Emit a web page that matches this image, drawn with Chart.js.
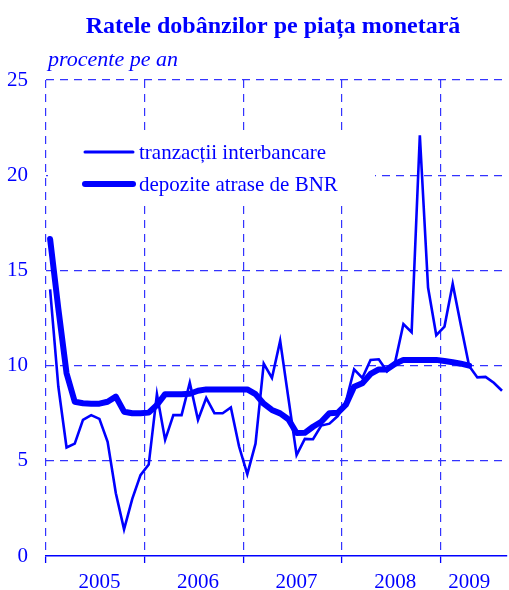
<!DOCTYPE html>
<html>
<head>
<meta charset="utf-8">
<script src="https://cdn.jsdelivr.net/npm/chart.js@4/dist/chart.umd.min.js"></script>
<style>
  html, body { margin: 0; padding: 0; background: #fff; }
  #wrap { width: 509px; height: 590px; position: relative; }
</style>
</head>
<body>
<div id="wrap"><canvas id="myChart"></canvas></div>
<script>
// monthly series, Jan 2005 .. Aug 2009
var years = ["2005", "2006", "2007", "2008", "2009"];
var yearLabelIdx = [6, 18, 30, 42, 51];
var months = [];
years.forEach(function(y){
  for (var m = 1; m <= 12; m++) months.push(y + "-" + (m < 10 ? "0" + m : m));
});
months = months.slice(0, 56);

var interbank = [14.0, 8.9, 5.7, 5.9, 7.15, 7.4, 7.2, 6.0, 3.3, 1.4, 3.0, 4.25,
                 4.8, 8.5, 6.1, 7.4, 7.4, 9.1, 7.15, 8.3, 7.5, 7.5, 7.8, 5.75,
                 4.3, 5.9, 10.1, 9.35, 11.3, 8.3, 5.3, 6.15, 6.13, 6.85, 6.95, 7.35,
                 8.1, 9.8, 9.35, 10.3, 10.33, 9.7, 10.2, 12.18, 11.75, 22.1, 14.1, 11.6,
                 12.05, 14.29, 12.1, 9.98, 9.38, 9.41, 9.1, 8.68];
var bnrDeposits = [16.65, 13.0, 9.6, 8.1, 8.02, 8.0, 8.0, 8.1, 8.37, 7.58, 7.5, 7.5,
                   7.53, 7.93, 8.5, 8.5, 8.5, 8.52, 8.68, 8.75, 8.75, 8.75, 8.75, 8.75,
                   8.75, 8.5, 8.0, 7.67, 7.49, 7.18, 6.46, 6.47, 6.79, 7.05, 7.5, 7.52,
                   7.95, 8.89, 9.07, 9.56, 9.8, 9.8, 10.1, 10.3, 10.3, 10.3, 10.3, 10.3,
                   10.24, 10.18, 10.1, 10.0];

var seriesNames = ["tranzacții interbancare", "depozite atrase de BNR"];
var titleText = "Ratele dobânzilor pe piața monetară";
var unitText = "procente pe an";

var BLUE = "#0000ff";
var GRID = "#3333ff";
var FONT = "'Liberation Serif', 'Times New Roman', serif";

var overlay = {
  id: 'overlay',
  afterDraw: function(chart){
    var ctx = chart.ctx;
    ctx.save();
    ctx.fillStyle = BLUE;
    ctx.textBaseline = 'middle';
    ctx.font = "bold 24px " + FONT;
    ctx.textAlign = 'center';
    ctx.fillText(titleText, 273, 27);
    ctx.font = "italic 22px " + FONT;
    ctx.textAlign = 'left';
    ctx.fillText(unitText, 48, 60);
    ctx.restore();
  },
  beforeDatasetsDraw: function(chart){
    var ctx = chart.ctx;
    var ds = chart.data.datasets;
    ctx.save();
    ctx.fillStyle = "#fff";
    ctx.fillRect(48, 134, 327, 66);
    var rows = [152, 184];
    ds.forEach(function(d, i){
      ctx.strokeStyle = d.borderColor;
      ctx.lineWidth = i === 0 ? 3 : 6;
      ctx.lineCap = 'round';
      ctx.beginPath();
      ctx.moveTo(85, rows[i]);
      ctx.lineTo(133, rows[i]);
      ctx.stroke();
      ctx.fillStyle = BLUE;
      ctx.font = "21px " + FONT;
      ctx.textBaseline = 'middle';
      ctx.fillText(d.label, 139, rows[i] + 1);
    });
    ctx.restore();
  }
};

var ctx = document.getElementById('myChart').getContext('2d');
var chart = new Chart(ctx, {
  type: 'line',
  data: {
    labels: months,
    datasets: [{
      label: seriesNames[0],
      data: interbank,
      borderColor: BLUE,
      borderWidth: 2.6,
      pointRadius: 0,
      tension: 0,
      borderJoinStyle: 'miter'
    }, {
      label: seriesNames[1],
      data: bnrDeposits,
      borderColor: BLUE,
      borderWidth: 6,
      pointRadius: 0,
      tension: 0,
      borderJoinStyle: 'round',
      borderCapStyle: 'round'
    }]
  },
  options: {
    responsive: true,
    maintainAspectRatio: false,
    animation: false,
    layout: { padding: { top: 80, left: 6, right: -3, bottom: 2 } },
    plugins: {
      legend: { display: false },
      title: { display: false },
      tooltip: { enabled: false }
    },
    scales: {
      x: {
        offset: true,
        afterFit: function(s){ s.height = 32; },
        grid: {
          offset: true,
          color: function(c){ return (c.index % 12 === 0 && c.index < 56) ? GRID : 'transparent'; },
          tickColor: function(c){ return (c.index % 12 === 0 && c.index < 56) ? BLUE : 'transparent'; },
          lineWidth: 1.2,
          tickLength: 7,
          tickWidth: 1.3
        },
        border: { display: true, color: BLUE, width: 1.5, dash: [8, 6] },
        ticks: {
          autoSkip: false,
          maxRotation: 0,
          padding: 7,
          color: BLUE,
          font: { family: FONT, size: 21 },
          callback: function(v, i){
            var k = yearLabelIdx.indexOf(i);
            return k >= 0 ? years[k] : '';
          }
        }
      },
      y: {
        min: 0,
        max: 25,
        afterFit: function(s){ s.width = 40; },
        grid: {
          color: function(c){ return c.tick.value === 0 ? 'transparent' : GRID; },
          lineWidth: 1.2,
          drawTicks: false
        },
        border: { display: false, dash: [8, 6] },
        ticks: {
          stepSize: 5,
          padding: 18,
          color: BLUE,
          font: { family: FONT, size: 21 }
        }
      }
    }
  },
  plugins: [overlay]
});
</script>
</body>
</html>
